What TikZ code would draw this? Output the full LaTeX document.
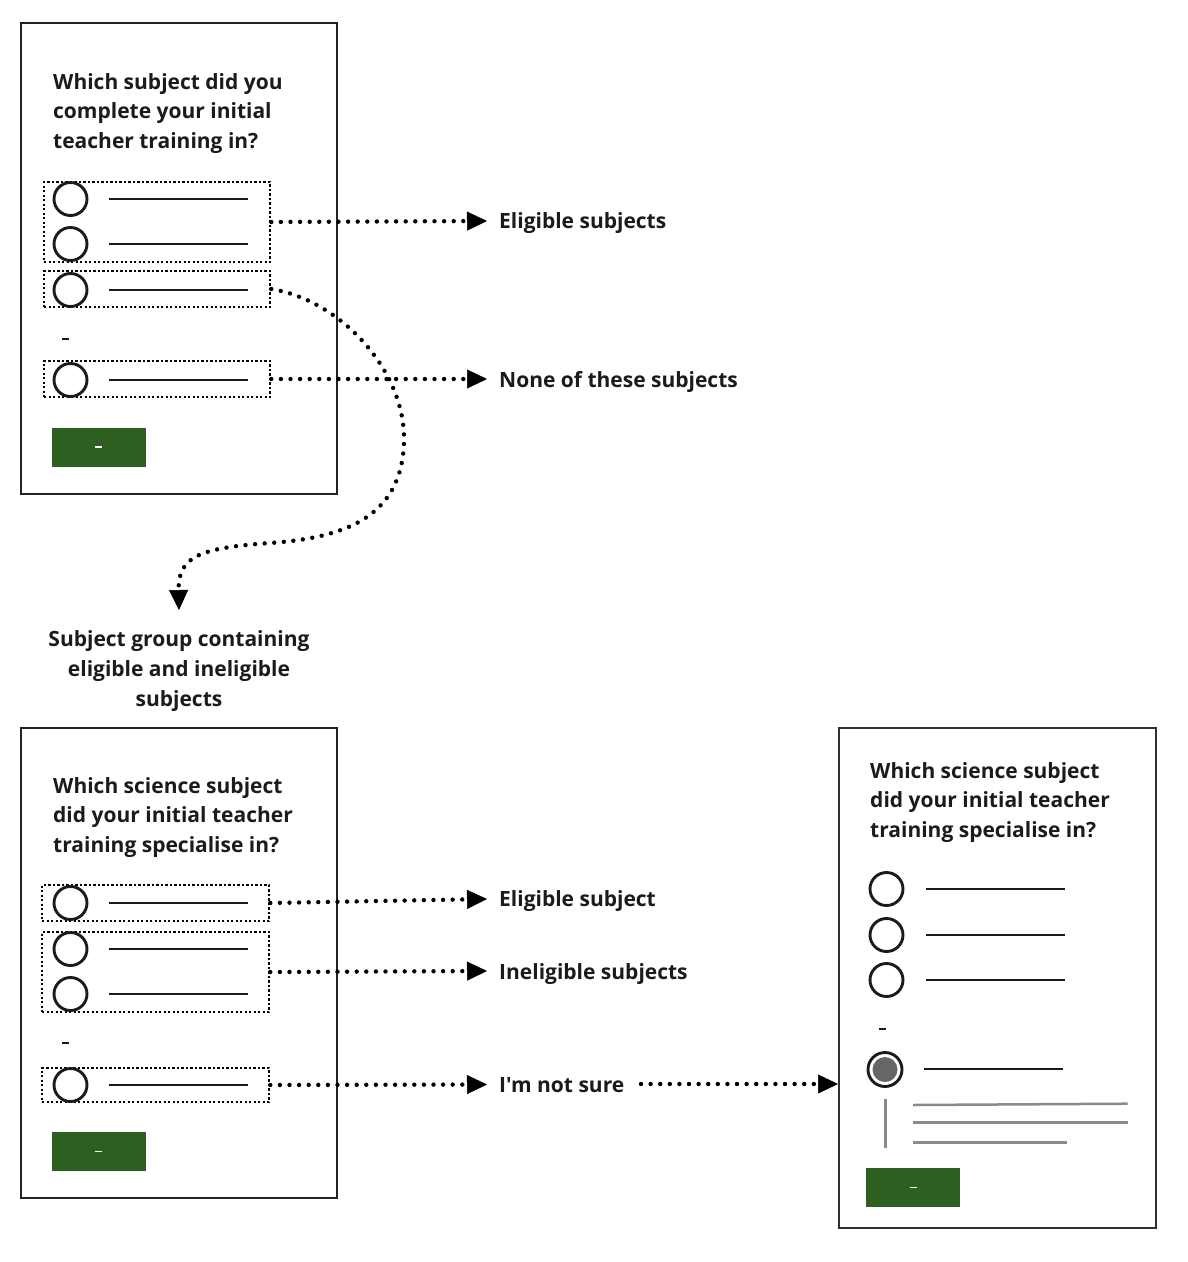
\documentclass[tikz,border=0pt]{standalone}
\usepackage{fontspec}
\setmainfont{Open Sans}[Ligatures=TeXOff]
\usetikzlibrary{arrows.meta}
\definecolor{ink}{HTML}{1B1B1B}
\definecolor{btngreen}{HTML}{2D6020}
\definecolor{framec}{HTML}{222222}
\definecolor{selgray}{HTML}{666666}
\definecolor{hintgray}{HTML}{8A8A8A}
\begin{document}
\begin{tikzpicture}[x=1pt,y=-1pt,
  screen/.style={draw=framec, line width=2pt, inner sep=0pt},
  grp/.style={draw=black, line width=2.6pt, dash pattern=on 2.3pt off 2.2pt, inner sep=0pt},
  radio/.style={circle, draw=ink, line width=2.9pt, minimum size=33pt, inner sep=0pt},
  optline/.style={draw=ink, line width=2pt},
  hint/.style={draw=hintgray, line width=2.5pt},
  tiny/.style={draw=ink, line width=1.2pt},
  btnbox/.style={fill=btngreen, minimum width=94pt, minimum height=39pt, inner sep=0pt},
  flow/.style={line width=4.4pt, dash pattern=on 0pt off 9.6pt, line cap=round,
    -{Triangle[length=20pt,width=19pt,line width=0.5pt]}},
  title/.style={font=\bfseries\fontsize{21}{29.5}\selectfont, text=ink, inner sep=0pt, anchor=base west},
  lab/.style={font=\bfseries\fontsize{21}{29.5}\selectfont, text=ink, inner sep=0pt, anchor=base west},
  ctr/.style={font=\bfseries\fontsize{21}{29.5}\selectfont, text=ink, inner sep=0pt, anchor=base}
]
\useasboundingbox (0,0) rectangle (1188,1262);

% ---------------- Screen 1 ----------------
\node[screen, minimum width=316pt, minimum height=471pt] (s1) at (179,258.5) {};
\node[title] (t1a) at (53,89) {Which subject did you};
\node[title] (t1b) at (53,118.5) {complete your initial};
\node[title] (t1c) at (53,148) {teacher training in?};

\node[grp, minimum width=226pt, minimum height=80pt] (g1) at (157,222) {};
\node[grp, minimum width=226pt, minimum height=36pt] (g2) at (157,289) {};
\node[grp, minimum width=226pt, minimum height=36pt] (g3) at (157,379) {};

\foreach \yy/\nm in {199/a,244/b,290/c,380/d}{
  \node[radio] (r1\nm) at (70.5,\yy) {};
  \draw[optline] (109,\yy) -- (248,\yy);
}
\draw[tiny] (62,339) -- (69,339);
\node[btnbox] (b1) at (98.5,447) {};
\draw[white, line width=1.2pt] (95,447) -- (102,447);

% ---------------- Screen 2 ----------------
\node[screen, minimum width=316pt, minimum height=470pt] (s2) at (179,963) {};
\node[title] (t2a) at (53,793) {Which science subject};
\node[title] (t2b) at (53,822.5) {did your initial teacher};
\node[title] (t2c) at (53,852) {training specialise in?};

\node[grp, minimum width=227pt, minimum height=36pt] (h1) at (155.5,903) {};
\node[grp, minimum width=227pt, minimum height=80pt] (h2) at (155.5,972) {};
\node[grp, minimum width=227pt, minimum height=34pt] (h3) at (155.5,1085) {};

\foreach \yy/\nm in {903/a,949/b,994/c,1085/d}{
  \node[radio] (r2\nm) at (70.5,\yy) {};
  \draw[optline] (109,\yy) -- (248,\yy);
}
\draw[tiny] (62,1043) -- (69,1043);
\node[btnbox] (b2) at (98.5,1151.5) {};
\draw[white, line width=1.2pt] (95,1151.5) -- (102,1151.5);

% ---------------- Screen 3 ----------------
\node[screen, draw=framec!85!gray, minimum width=317pt, minimum height=500pt] (s3) at (997.5,978) {};
\node[title] (t3a) at (870,778) {Which science subject};
\node[title] (t3b) at (870,807.5) {did your initial teacher};
\node[title] (t3c) at (870,837) {training specialise in?};

\foreach \yy/\nm in {889/a,935/b,980/c}{
  \node[radio] (r3\nm) at (886.5,\yy) {};
  \draw[optline] (926,\yy) -- (1065,\yy);
}
\draw[tiny] (878.5,1029) -- (886,1029);
\node[radio, minimum size=34pt] (r3d) at (885,1069.5) {};
\fill[selgray] (r3d.center) circle (12.5pt);
\draw[optline] (924,1069) -- (1062.5,1069);
\draw[hint] (885.3,1099) -- (885.3,1147.5);
\draw[hint] (913,1105) -- (1127.5,1103.7);
\draw[hint] (913,1122.7) -- (1128,1122.7);
\draw[hint] (913,1142.3) -- (1067,1142.3);
\node[btnbox] (b3) at (913,1187.5) {};
\draw[white, line width=1.2pt] (909.5,1187.5) -- (916.5,1187.5);

% ---------------- Labels ----------------
\node[lab] (l1) at (499,228.5) {Eligible subjects};
\node[lab] (l2) at (499,387) {None of these subjects};
\node[ctr] (l3a) at (179,646) {Subject group containing};
\node[ctr] (l3b) at (179,676.5) {eligible and ineligible};
\node[ctr] (l3c) at (179,706) {subjects};
\node[lab] (l4) at (499,906) {Eligible subject};
\node[lab] (l5) at (499,979.5) {Ineligible subjects};
\node[lab] (l6) at (499,1092) {I'm not sure};

% ---------------- Connectors ----------------
\coordinate (e1) at (487,221);
\coordinate (e2) at (487,379);
\coordinate (e3) at (179,610);
\coordinate (e4) at (487,899);
\coordinate (e5) at (487,971);
\coordinate (e6) at (487,1084.5);
\coordinate (n6) at (641,1084);

\draw[flow] (g1.east) -- (e1);
\draw[flow] (g3.east) -- (e2);
\draw[flow] (g2.east) .. controls (340,300) and (405,370) .. (404,440)
                      .. controls (403,520) and (340,538) .. (270,543)
                      .. controls (200,548) and (178,556) .. (e3);
\draw[flow] (h1.east) -- (e4);
\draw[flow] (h2.east) -- (e5);
\draw[flow] (h3.east) -- (e6);
\draw[flow] (n6) -- (s3.west |- n6);
\end{tikzpicture}
\end{document}
